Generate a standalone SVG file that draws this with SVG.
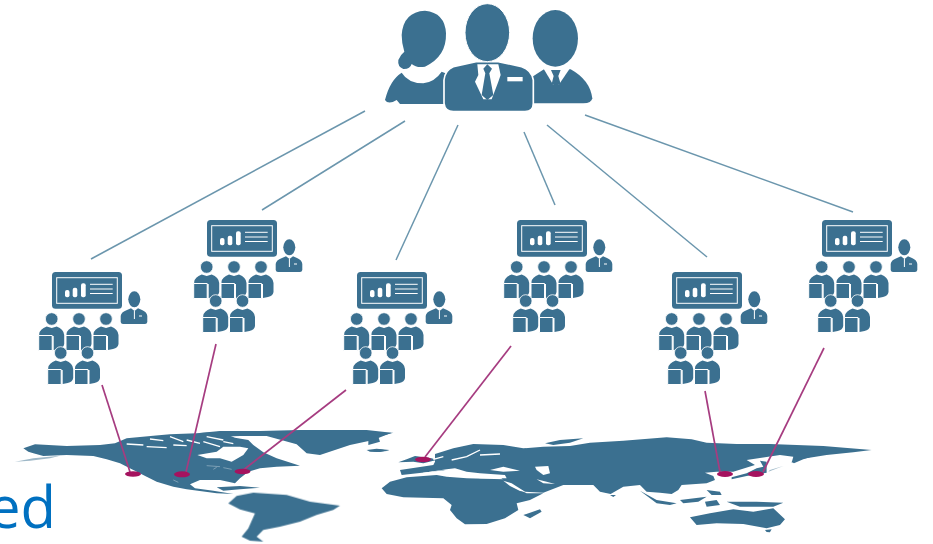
<svg xmlns="http://www.w3.org/2000/svg" width="933" height="544" viewBox="0 0 933 544">
<style>
.b{fill:#3b7090}
.w{fill:#fff}
.ws{fill:none;stroke:#fff;stroke-width:1}
.fl{fill:none;stroke:#fff;stroke-width:4}
.link{stroke:#6b96ad;stroke-width:1.5;fill:none}
.geo{stroke:#a63c80;stroke-width:1.700;fill:none}
.pin{fill:#a5135f}
text{font-family:"Open Sans","Noto Sans",sans-serif}
</style>
<defs>
<filter id="soft" x="-5%" y="-5%" width="110%" height="110%"><feGaussianBlur stdDeviation="0.45"/></filter>
<g id="student">
<circle class="b" cx="0" cy="0" r="6.300" stroke="#fff" stroke-width=".8"/>
<path class="b" d="M-12.500,15 Q-12,10 -5,7.500 L0,9 L5,7.500 Q12,10 12.500,16 L12.500,25 Q12,29 7,30 L2,31 L2,17 L-12.500,17Z"/>
<path class="b" stroke="#fff" stroke-width="1" d="M-13,16.500 H0.500 V31.500 H-13Z"/>
</g>
<g id="team">
<rect class="b" x="0" y="0" width="70" height="36.700" rx="3.500"/>
<rect class="ws" x="4.700" y="5.700" width="60.600" height="25.600"/>
<rect class="w" x="13" y="18" width="4.500" height="7.300" rx="2"/>
<rect class="w" x="20.700" y="15.700" width="4.600" height="9.600" rx="2"/>
<rect class="w" x="29" y="11.300" width="4.700" height="14" rx="2"/>
<path class="ws" d="M38,12.300H60.700M38,17H60.700M38,21.500H60.700"/>
<ellipse class="b" cx="82.300" cy="27.300" rx="6" ry="8"/>
<path class="b" d="M68.700,44 Q69,40 75,38 L79,36.300 L82.500,39 L86,36.300 L90,38 Q95,40 95.300,44 L95.300,50 Q95,52 93,52 L71,52 Q69,52 68.700,50Z"/>
<path class="ws" d="M82.400,39V47M87,44H90"/>
<use href="#student" x="-0.300" y="47"/>
<use href="#student" x="27" y="47"/>
<use href="#student" x="54" y="47"/>
<use href="#student" x="8.700" y="81"/>
<use href="#student" x="35.500" y="81"/>
</g>
</defs>

<g id="leaders" transform="translate(370 0) scale(.3333)" filter="url(#soft)">
<path class="b" d="M95,105 Q100,35 165,32 Q225,38 228,100 Q230,170 165,200 Q140,205 125,192 Q120,208 100,207 Q82,200 85,180 Q90,165 103,155 Q95,130 95,105Z"/>
<path class="b" d="M45,300 Q60,240 95,218 Q115,250 160,250 Q195,245 215,215 L240,225 L225,312 L90,312 L80,300 Q55,315 45,300Z"/>
<ellipse class="b" cx="556" cy="115" rx="68" ry="85"/>
<path class="b" d="M480,235 L522,208 L590,208 L602,208 Q660,240 667,295 Q665,310 640,310 L480,310Z"/>
<path class="w" d="M520,205 L600,205 L566,255 L550,255Z"/>
<path class="b" d="M543,210 L572,210 L565,228 L572,252 L558,258 L545,252 L551,228Z"/>
<path class="b" stroke="#fff" stroke-width="5" d="M222,240 Q225,210 250,200 L318,185 L385,185 L455,200 Q485,210 490,240 L490,310 Q490,335 465,335 L250,335 Q225,335 222,310Z"/>
<ellipse class="b" stroke="#fff" stroke-width="3" cx="352" cy="98" rx="67" ry="87"/>
<path class="w" d="M322,193 L385,193 L392,225 L385,245 L365,298 L340,298 L315,245 L325,225Z"/>
<path class="b" d="M340,206 L352,193 L366,206 L358,220 L370,285 L352,300 L335,285 L346,220Z"/>
<rect class="w" x="412" y="231" width="46" height="13"/>
</g>

<g id="team-1"><use href="#team" x="52" y="272"/></g>
<g id="team-2"><use href="#team" x="207" y="220"/></g>
<g id="team-3"><use href="#team" x="357" y="272"/></g>
<g id="team-4"><use href="#team" x="517" y="220"/></g>
<g id="team-5"><use href="#team" x="672" y="272"/></g>
<g id="team-6"><use href="#team" x="822" y="220"/></g>

<g id="map" filter="url(#soft)">
<g transform="translate(120 425) scale(.3333)">
<path class="b" d="M-290,70 L-255,58 L-160,63 L-60,60 L-15,55 L20,40 L100,32 L150,28 L230,25 L300,20 L345,38 L385,45 L400,60 L430,82 L470,100 L540,122 L470,125 L420,130 L385,140 L360,160 L345,175 L300,165 L240,165 L210,178 L225,190 L280,197 L340,207 L290,205 L200,193 L160,185 L110,170 L80,155 L40,135 L0,115 L-40,103 L-80,93 L-160,90 L-230,93 L-260,85 L-275,80Z"/>
<path class="b" d="M230,25 L300,18 L420,18 L540,15 L740,15 L815,23 L760,45 L690,60 L600,90 L560,85 L530,58 L440,33 L360,33 L300,35Z"/>
<path class="b" d="M-315,110 L-260,100 L-180,92 L-210,100 L-270,107Z" opacity=".5"/>
<path class="w" d="M232,90 L290,80 L310,65 L360,65 L385,70 L370,90 L335,110 L300,100 L260,100Z"/>
<path class="fl" d="M20,57L70,60M90,42L130,47M150,35L190,50M80,65L140,68M200,45L240,55M250,50L300,65M260,35L310,45M160,60L200,62M310,50L340,56"/>
<path class="ws" d="M260,122L300,125M280,133L290,127M310,128L335,133M160,165L175,172"/>
<path class="b" d="M290,187 L360,183 L420,188 L360,193 L310,197Z"/>
<path class="b" d="M740,75 L770,71 L808,75 L780,81 L750,80Z"/>
</g>
<g transform="translate(0 420) scale(.3333)">
<path class="b" d="M685,250 L710,228 L760,218 L860,225 L930,245 L1020,257 L1000,270 L950,285 L900,305 L840,320 L790,330 L770,350 L790,365 L750,362 L725,350 L745,325 L765,280 L720,268Z"/>
</g>
<g transform="translate(370 420) scale(.3333)">
<path class="b" d="M195,102 L250,85 L310,72 L400,75 L460,85 L520,80 L600,78 L660,68 L760,62 L890,52 L965,58 L1010,68 L1100,72 L1200,72 L1360,78 L1505,90 L1450,97 L1370,105 L1290,118 L1265,128 L1270,110 L1230,105 L1130,120 L1155,135 L1090,155 L1040,155 L1005,158 L1030,168 L1035,180 L1010,190 L935,195 L925,210 L905,222 L870,218 L830,215 L810,195 L760,200 L722,222 L690,215 L670,195 L610,195 L580,195 L520,218 L465,215 L405,185 L395,175 L230,150 L95,165 L90,150 L190,135 L195,125Z"/>
<path class="b" d="M1085,172 L1130,160 L1160,145 L1180,140 L1170,122 L1190,125 L1190,158 L1130,168 L1085,178Z"/>
<path class="b" d="M1265,125 L1290,112 L1340,105 L1300,118 L1272,130Z"/>
<path class="b" d="M1195,155 L1240,138 L1200,150Z" opacity=".5"/>
<path class="b" d="M35,205 L60,185 L110,172 L200,165 L230,170 L290,175 L400,178 L430,200 L470,220 L520,220 L480,240 L440,250 L445,270 L405,295 L350,312 L285,313 L260,295 L240,270 L245,255 L220,235 L100,232 L50,222Z"/>
<path class="b" d="M85,127 L110,118 L135,108 L185,115 L200,120 L160,130 L130,125Z"/>
<path class="b" d="M-5,40 L70,38 L25,50 L30,65 L-5,75Z"/>
<path class="b" d="M-5,92 L30,88 L58,92 L20,96Z"/>
<path class="b" d="M525,70 L570,60 L640,55 L600,68 L550,75Z"/>
<path class="w" d="M140,165 L220,150 L245,160 L270,160 L330,175 L410,175 L405,165 L330,160 L290,155 L255,145 L230,148 L160,158Z"/>
<path class="w" d="M360,150 L400,140 L450,152 L400,155Z"/>
<path class="w" d="M495,140 L535,138 L540,160 L520,165 L500,150Z"/>
<path class="w" d="M400,182 L425,190 L465,215 L450,213 L420,198Z"/>
<path class="w" d="M500,178 L530,185 L555,192 L520,190Z"/>
<path class="fl" d="M245,120L290,110L330,90M330,105L390,102M190,118L220,110"/>
<path class="b" d="M460,285 L510,268 L515,275 L480,295Z"/>
<path class="b" d="M960,292 L1020,280 L1090,268 L1150,275 L1210,265 L1245,298 L1230,315 L1190,325 L1120,312 L1040,310 L980,315Z"/>
<path class="b" d="M1185,330 L1205,328 L1200,337 L1190,336Z"/>
<path class="b" d="M810,212 L860,240 L920,250 L900,255 L860,250Z"/>
<path class="b" d="M930,240 L1010,230 L985,245 L940,250Z"/>
<path class="b" d="M1005,245 L1040,240 L1050,255 L1010,260Z"/>
<path class="b" d="M1070,245 L1160,245 L1240,248 L1210,260 L1110,260Z"/>
<path class="b" d="M1010,210 L1050,215 L1055,225 L1025,225Z"/>
<path class="b" d="M720,225 L738,225 L730,231Z"/>
</g>
</g>

<g id="connectors">
<path class="link" d="M365,111L91,259"/>
<path class="link" d="M405,121L262,210"/>
<path class="link" d="M458,125L396,260"/>
<path class="link" d="M524,132L555,205"/>
<path class="link" d="M547,125L707,257"/>
<path class="link" d="M585,115L853,212"/>
<path class="geo" d="M102,385L130,472"/>
<path class="geo" d="M216,344L186,472"/>
<path class="geo" d="M346,390L242,471"/>
<path class="geo" d="M511,346L425,457"/>
<path class="geo" d="M705,391L720,472"/>
<path class="geo" d="M824,348L763,472"/>
</g>

<g id="pins">
<ellipse class="pin" cx="133" cy="474" rx="8" ry="2.800"/>
<ellipse class="pin" cx="182" cy="474.300" rx="8" ry="3"/>
<ellipse class="pin" cx="242.500" cy="471.500" rx="8" ry="2.800"/>
<ellipse class="pin" cx="423" cy="459.500" rx="8" ry="2.800"/>
<ellipse class="pin" cx="725" cy="474" rx="8" ry="3"/>
<ellipse class="pin" cx="756" cy="474" rx="8" ry="3"/>
</g>

<text x="56" y="528" font-size="58" fill="#0070c0" text-anchor="end">ed</text>
</svg>
